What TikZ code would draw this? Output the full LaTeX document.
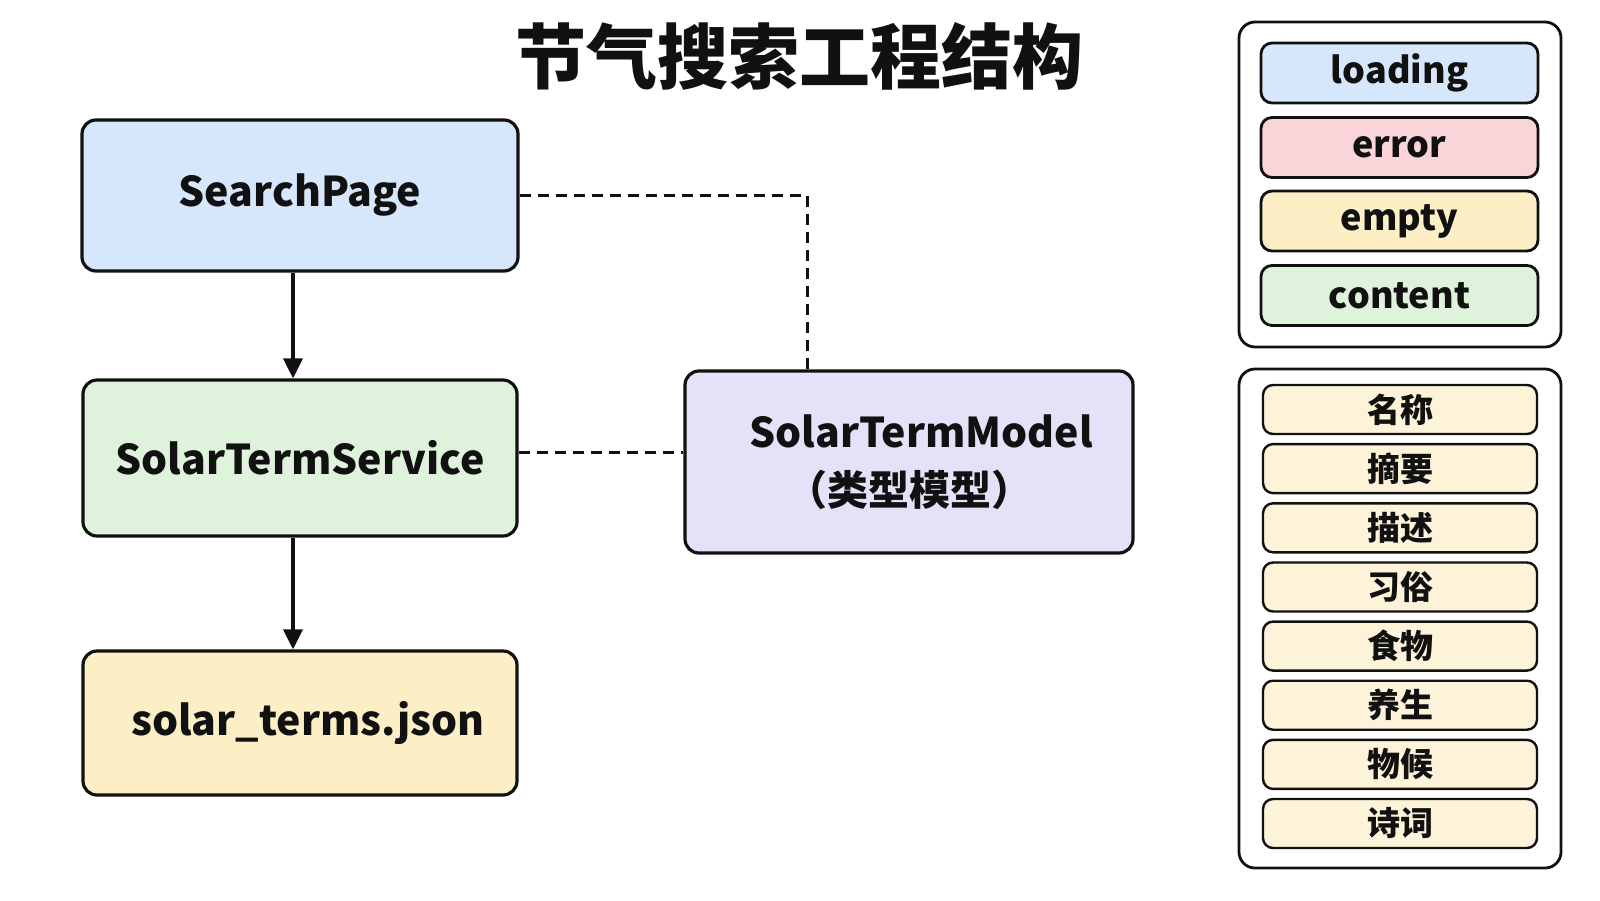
\documentclass[tikz,border=0pt]{standalone}
\usepackage{fontspec}
\setmainfont{Noto Sans CJK SC}
\usetikzlibrary{arrows.meta,calc}
\definecolor{cblue}{HTML}{D6E6FB}
\definecolor{cgreen}{HTML}{DFF3DC}
\definecolor{cyellow}{HTML}{FCEFC6}
\definecolor{cpurple}{HTML}{E7E0F9}
\definecolor{cred}{HTML}{F9D4D8}
\definecolor{citem}{HTML}{FDF3D8}
\definecolor{ink}{HTML}{111111}
\tikzset{
  mainbox/.style={draw=ink, line width=3.2pt, rounded corners=14pt, inner sep=0pt, font=\bfseries\fontsize{41}{46}\selectfont, text=ink, align=center},
  panel/.style={draw=ink, line width=2.8pt, rounded corners=16pt, fill=white, inner sep=0pt},
  statebox/.style={draw=ink, line width=2.8pt, rounded corners=11pt, minimum width=277pt, minimum height=60pt, inner sep=0pt, font=\bfseries\fontsize{36}{40}\selectfont, text=ink},
  itembox/.style={draw=ink, line width=2.4pt, rounded corners=10pt, fill=citem, minimum width=274pt, minimum height=49pt, inner sep=0pt, font=\bfseries\fontsize{33}{38}\selectfont, text=ink},
  flow/.style={draw=ink, line width=3.4pt, -{Triangle[length=20pt,width=19pt]}},
  dep/.style={draw=ink, line width=3pt, dash pattern=on 11pt off 7pt},
}
\begin{document}
\begin{tikzpicture}[x=1pt,y=-1pt]
\useasboundingbox (0,0) rectangle (1600,900);
\fill[white] (0,0) rectangle (1600,900);
% title
\node[font=\bfseries\fontsize{71}{75}\selectfont, text=ink] (title) at (799,56) {节气搜索工程结构};
% main boxes
\node[mainbox, fill=cblue, minimum width=436pt, minimum height=151pt] (sp) at (300,195.5) {SearchPage};
\node[mainbox, fill=cgreen, minimum width=434pt, minimum height=156pt] (svc) at (300,458) {SolarTermService};
\node[mainbox, fill=cyellow, minimum width=434pt, minimum height=144pt] (json) at (300,723) {\hspace*{16pt}solar\_terms.json};
\node[mainbox, fill=cpurple, minimum width=448pt, minimum height=182pt, font=\bfseries\fontsize{41}{58}\selectfont] (model) at (909,462) {\hspace*{24pt}SolarTermModel\\（类型模型）};
% connectors
\draw[flow] ([xshift=-7pt]sp.south) -- ([xshift=-7pt]svc.north);
\draw[flow] ([xshift=-7pt]svc.south) -- ([xshift=-7pt]json.north);
\coordinate (bend) at ($(model.north)+(-102,0)$);
\draw[dep] (sp.east) -| (bend);
\draw[dep] ([yshift=6pt]svc.east) -- ([yshift=6pt]svc.east -| model.west);
% right panel 1
\node[panel, minimum width=322pt, minimum height=325pt] (p1) at (1400,184.5) {};
\node[statebox, fill=cblue] (s1) at (1399.5,73) {loading};
\node[statebox, fill=cred] (s2) at (1399.5,147.5) {error};
\node[statebox, fill=cyellow] (s3) at (1399.5,221) {empty};
\node[statebox, fill=cgreen] (s4) at (1399.5,295.5) {content};
% right panel 2
\node[panel, minimum width=322pt, minimum height=499pt] (p2) at (1400,618.5) {};
\node[itembox] (f1) at (1400,409.5) {名称};
\node[itembox] (f2) at (1400,468.6) {摘要};
\node[itembox] (f3) at (1400,527.8) {描述};
\node[itembox] (f4) at (1400,587.0) {习俗};
\node[itembox] (f5) at (1400,646.1) {食物};
\node[itembox] (f6) at (1400,705.2) {养生};
\node[itembox] (f7) at (1400,764.4) {物候};
\node[itembox] (f8) at (1400,823.5) {诗词};
\end{tikzpicture}
\end{document}
